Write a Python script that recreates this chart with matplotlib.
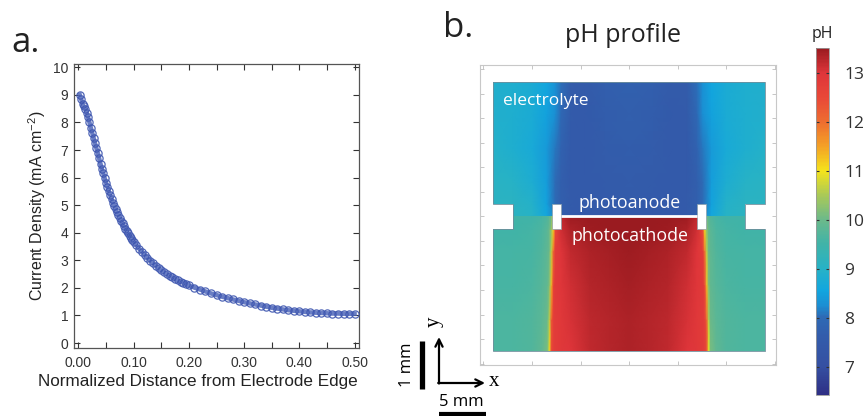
import numpy as np
import matplotlib
matplotlib.use("Agg")
import matplotlib.pyplot as plt
import matplotlib.ticker as mt
from matplotlib.colors import LinearSegmentedColormap, Normalize
from matplotlib.cm import ScalarMappable
from matplotlib.patches import Polygon, Rectangle

plt.rcParams['font.family'] = ['Liberation Sans', 'DejaVu Sans']

# ---------------- panel a data ----------------
distance = [0.0025, 0.0050, 0.0075, 0.0100, 0.0125, 0.0150, 0.0175, 0.0200,
            0.0225, 0.0250, 0.0275, 0.0300, 0.0325, 0.0350, 0.0375, 0.0400,
            0.0425, 0.0450, 0.0475, 0.0500, 0.0525, 0.0550, 0.0575, 0.0600,
            0.0625, 0.0650, 0.0675, 0.0700, 0.0725, 0.0750, 0.0775, 0.0800,
            0.0825, 0.0850, 0.0875, 0.0900, 0.0925, 0.0950, 0.0975, 0.1000,
            0.105, 0.110, 0.115, 0.120, 0.125, 0.130, 0.135, 0.140, 0.145,
            0.150, 0.155, 0.160, 0.165, 0.170, 0.175, 0.180, 0.185, 0.190,
            0.195, 0.200,
            0.21, 0.22, 0.23, 0.24, 0.25, 0.26, 0.27, 0.28, 0.29, 0.30,
            0.31, 0.32, 0.33, 0.34, 0.35, 0.36, 0.37, 0.38, 0.39, 0.40,
            0.41, 0.42, 0.43, 0.44, 0.45, 0.46, 0.47, 0.48, 0.49, 0.50]
current = [9.00, 8.85, 8.66, 8.58, 8.50, 8.36, 8.18, 8.00,
           7.81, 7.62, 7.44, 7.25, 7.07, 6.90, 6.70, 6.50,
           6.32, 6.15, 5.98, 5.82, 5.66, 5.50, 5.36, 5.22,
           5.09, 4.97, 4.85, 4.74, 4.63, 4.53, 4.43, 4.34,
           4.24, 4.15, 4.06, 3.98, 3.90, 3.82, 3.75, 3.68,
           3.55, 3.42, 3.31, 3.20, 3.09, 2.99, 2.90, 2.81, 2.72,
           2.64, 2.57, 2.50, 2.44, 2.38, 2.32, 2.27, 2.22, 2.18,
           2.13, 2.09,
           2.01, 1.94, 1.87, 1.80, 1.74, 1.68, 1.63, 1.58, 1.53, 1.48,
           1.44, 1.40, 1.36, 1.32, 1.28, 1.25, 1.22, 1.19, 1.17, 1.15,
           1.13, 1.11, 1.10, 1.09, 1.08, 1.07, 1.07, 1.06, 1.06, 1.06]
x_ticks_a = [0.0, 0.1, 0.2, 0.3, 0.4, 0.5]
y_ticks_a = [0, 1, 2, 3, 4, 5, 6, 7, 8, 9, 10]

# ---------------- panel b data: pH field (left half, mirrored) ----------------
ph_x_half_top = [-14, -12, -10, -8.5, -7.6, -7.0, -6.0, -4.5, -2.5, 0]
ph_y_top = [0, 0.25, 0.7, 1.4, 2.1, 2.75]
ph_top_half = [
    [9.10, 9.10, 9.00, 8.60, 8.20, 7.70, 7.55, 7.45, 7.45, 7.45],
    [9.10, 9.10, 8.95, 8.50, 8.00, 7.70, 7.55, 7.50, 7.50, 7.50],
    [9.05, 9.00, 8.80, 8.45, 8.00, 7.70, 7.50, 7.50, 7.55, 7.60],
    [8.95, 8.85, 8.70, 8.40, 8.10, 7.80, 7.50, 7.50, 7.60, 7.65],
    [8.90, 8.85, 8.75, 8.50, 8.25, 7.95, 7.55, 7.50, 7.65, 7.70],
    [8.90, 8.85, 8.75, 8.55, 8.30, 8.05, 7.60, 7.55, 7.70, 7.75],
]
ph_x_half_bot = [-14, -12, -10, -9, -8.4, -8.2, -8.0, -7.8, -7.6, -7.0, -6, -4, -2, 0]
ph_y_bot = [-2.75, -2.1, -1.4, -0.7, -0.25, 0]
ph_bot_half = [
    [9.65, 9.65, 9.70, 9.85, 10.1, 11.0, 12.5, 12.7, 12.8, 12.9, 13.0, 13.2, 13.3, 13.35],
    [9.65, 9.65, 9.70, 9.80, 10.0, 10.6, 12.2, 12.7, 12.8, 12.9, 13.05, 13.25, 13.3, 13.35],
    [9.60, 9.60, 9.65, 9.75, 9.9, 10.2, 11.3, 12.6, 12.85, 12.95, 13.1, 13.3, 13.35, 13.4],
    [9.55, 9.55, 9.60, 9.70, 9.85, 10.0, 10.6, 12.0, 12.8, 13.0, 13.2, 13.35, 13.4, 13.45],
    [9.50, 9.50, 9.55, 9.65, 9.8, 10.0, 10.3, 11.0, 12.5, 13.1, 13.35, 13.45, 13.5, 13.5],
    [9.50, 9.50, 9.50, 9.60, 9.7, 9.8, 10.0, 11.0, 12.6, 13.2, 13.45, 13.5, 13.5, 13.5],
]
ph_ticks = [7, 8, 9, 10, 11, 12, 13]
ph_min, ph_max = 6.42, 13.5

# colormap anchors (pH, colour)
ph_cmap_anchors = [(6.42, '#2f2f85'), (7.0, '#3550a2'), (7.6, '#335cab'),
                   (8.0, '#2e6ab5'), (8.25, '#1b8fd3'), (8.55, '#12a6df'),
                   (9.0, '#27b2c6'), (9.5, '#40b3a8'), (10.0, '#6cb98a'),
                   (10.5, '#aac957'), (11.0, '#f5e31b'), (11.5, '#f4a126'),
                   (12.0, '#ee6d30'), (12.5, '#e94838'), (13.0, '#de353a'),
                   (13.5, '#9a1b20')]
cmap = LinearSegmentedColormap.from_list(
    'ph', [((v - ph_min) / (ph_max - ph_min), c) for v, c in ph_cmap_anchors])
norm = Normalize(ph_min, ph_max)

W, H = 864, 416
fig = plt.figure(figsize=(W / 100, H / 100), dpi=100)


def fbox(x0, y0, x1, y1):
    return [x0 / W, 1 - y1 / H, (x1 - x0) / W, (y1 - y0) / H]


# ================= panel a =================
ax = fig.add_axes(fbox(74, 64, 359, 348))
ax.plot(distance, current, color='#4f67ba', lw=3.2, zorder=2, alpha=0.85)
ax.plot(distance, current, ls='none', marker='o', ms=5.2, mfc='none',
        mec='#3f57b0', mew=0.9, zorder=3, alpha=0.9)
ax.set_xlim(-0.008, 0.508)
ax.set_ylim(-0.18, 10.12)
ax.set_xticks(x_ticks_a)
ax.xaxis.set_major_formatter(mt.FormatStrFormatter('%.2f'))
ax.xaxis.set_minor_locator(mt.MultipleLocator(0.05))
ax.set_yticks(y_ticks_a)
ax.tick_params(which='both', direction='in', top=True, right=True,
               length=4, width=0.8, labelsize=10, colors='#333333', pad=4)
ax.tick_params(axis='x', pad=6)
for s in ax.spines.values():
    s.set_color('#555555')
    s.set_linewidth(0.9)
ax.set_xlabel('Normalized Distance from Electrode Edge', fontsize=12.3,
              color='#222222', labelpad=3)
ax.xaxis.set_label_coords((198 - 74) / 285, -0.091)
ax.set_ylabel(r'Current Density (mA cm$^{\mathregular{-2}}$)', fontsize=11.5,
              color='#222222', labelpad=4)
fig.text(11 / W, 1 - 52 / H, 'a.', fontsize=25, family='Open Sans',
         va='baseline', ha='left', color='#222222')

# ================= panel b =================
bx = fig.add_axes(fbox(480, 65, 776, 365))
bx.set_xlim(-15.36, 15.15)
bx.set_ylim(-3.03, 3.09)

# domain outline with notches
notch_x, half_w, notch_h = 11.95, 14.0, 0.25
dom_top, dom_bot = 2.75, -2.75
domain_pts = [(-half_w, dom_top), (half_w, dom_top), (half_w, notch_h),
              (notch_x, notch_h), (notch_x, -notch_h), (half_w, -notch_h),
              (half_w, dom_bot), (-half_w, dom_bot), (-half_w, -notch_h),
              (-notch_x, -notch_h), (-notch_x, notch_h), (-half_w, notch_h)]
domain = Polygon(domain_pts, closed=True, facecolor='none',
                 edgecolor='#6f8f9c', lw=0.6, zorder=4)
bx.add_patch(domain)
clip = Polygon(domain_pts, closed=True, transform=bx.transData)


def mirror(xh, rows):
    xh = np.asarray(xh, float)
    xf = np.concatenate([xh, -xh[:-1][::-1]])
    rf = [np.concatenate([r, r[:-1][::-1]]) for r in np.asarray(rows, float)]
    return xf, np.array(rf)


xt, ct = mirror(ph_x_half_top, ph_top_half)
xb, cb = mirror(ph_x_half_bot, ph_bot_half)
m1 = bx.pcolormesh(xt, ph_y_top, ct, cmap=cmap, norm=norm, shading='gouraud', zorder=1)
m2 = bx.pcolormesh(xb, ph_y_bot, cb, cmap=cmap, norm=norm, shading='gouraud', zorder=1)
m1.set_clip_path(clip)
m2.set_clip_path(clip)

# electrode blocks and electrode line
blk_in, blk_out = 7.0, 7.95
for sgn in (-1, 1):
    x0 = blk_in if sgn > 0 else -blk_out
    bx.add_patch(Rectangle((x0, -notch_h), blk_out - blk_in, 2 * notch_h,
                           facecolor='white', edgecolor='#8aa0aa', lw=0.5, zorder=5))
bx.plot([-blk_in, blk_in], [0, 0], color='white', lw=2.0, zorder=5,
        solid_capstyle='butt')

bx.text(-13.0, 2.36, 'electrolyte', color='white', fontsize=12.5,
        family='Open Sans', ha='left', va='center', zorder=6)
bx.text(0.1, 0.28, 'photoanode', color='white', fontsize=12.8,
        family='Open Sans', ha='center', va='center', zorder=6)
bx.text(0.1, -0.40, 'photocathode', color='white', fontsize=12.8,
        family='Open Sans', ha='center', va='center', zorder=6)

bx.xaxis.set_major_locator(mt.MultipleLocator(5))
bx.yaxis.set_major_locator(mt.MultipleLocator(0.5))
bx.tick_params(which='both', direction='in', top=True, right=True,
               length=3, width=0.6, colors='#bdbdbd', labelleft=False,
               labelbottom=False)
for s in bx.spines.values():
    s.set_color('#c8c8c8')
    s.set_linewidth(0.8)

fig.text(623 / W, 1 - 42 / H, 'pH profile', fontsize=18, family='Open Sans',
         ha='center', va='baseline', color='#222222')
fig.text(443 / W, 1 - 37 / H, 'b.', fontsize=25, family='Open Sans',
         va='baseline', ha='left', color='#222222')

# colorbar
cax = fig.add_axes(fbox(816, 48, 829, 395))
cb_ = fig.colorbar(ScalarMappable(norm=norm, cmap=cmap), cax=cax, ticks=ph_ticks)
cb_.outline.set_edgecolor('#999999')
cb_.outline.set_linewidth(0.6)
cax.yaxis.set_ticks_position('both')
cax.tick_params(which='both', direction='in', length=2.5, width=0.8,
                colors='#333333', labelsize=12.5, pad=11, labelright=True,
                labelleft=False)
for lab in cax.get_yticklabels():
    lab.set_family('Open Sans')
cax.text(0.5, 1.0 + 6 / 347, 'pH', transform=cax.transAxes, ha='center',
         va='bottom', fontsize=11.5, family='Open Sans', color='#222222')

# scale bars / coordinate arrows (figure pixel overlay)
ov = fig.add_axes([0, 0, 1, 1])
ov.set_xlim(0, W)
ov.set_ylim(H, 0)
ov.axis('off')
ov.patch.set_alpha(0)
ov.plot([421.5, 421.5], [341, 389], color='black', lw=3.8, solid_capstyle='butt')
ov.text(407, 365, '1 mm', rotation=90, fontsize=12, family='Open Sans',
        ha='center', va='center')
ov.annotate('', xy=(439, 337), xytext=(439, 383.5),
            arrowprops=dict(arrowstyle='->', lw=1.6, color='black',
                            mutation_scale=13, shrinkA=0, shrinkB=0))
ov.annotate('', xy=(485, 383), xytext=(438.2, 383),
            arrowprops=dict(arrowstyle='->', lw=1.6, color='black',
                            mutation_scale=13, shrinkA=0, shrinkB=0))
ov.text(434, 322, 'y', rotation=90, fontsize=15, family='Liberation Serif',
        ha='center', va='center')
ov.text(489, 382, 'x', fontsize=15, family='Liberation Serif',
        ha='left', va='center')
ov.text(461, 402, '5 mm', fontsize=12, family='Open Sans', ha='center',
        va='center')
ov.plot([439, 486], [413.5, 413.5], color='black', lw=3.0, solid_capstyle='butt')

fig.savefig('out.png', dpi=100)
